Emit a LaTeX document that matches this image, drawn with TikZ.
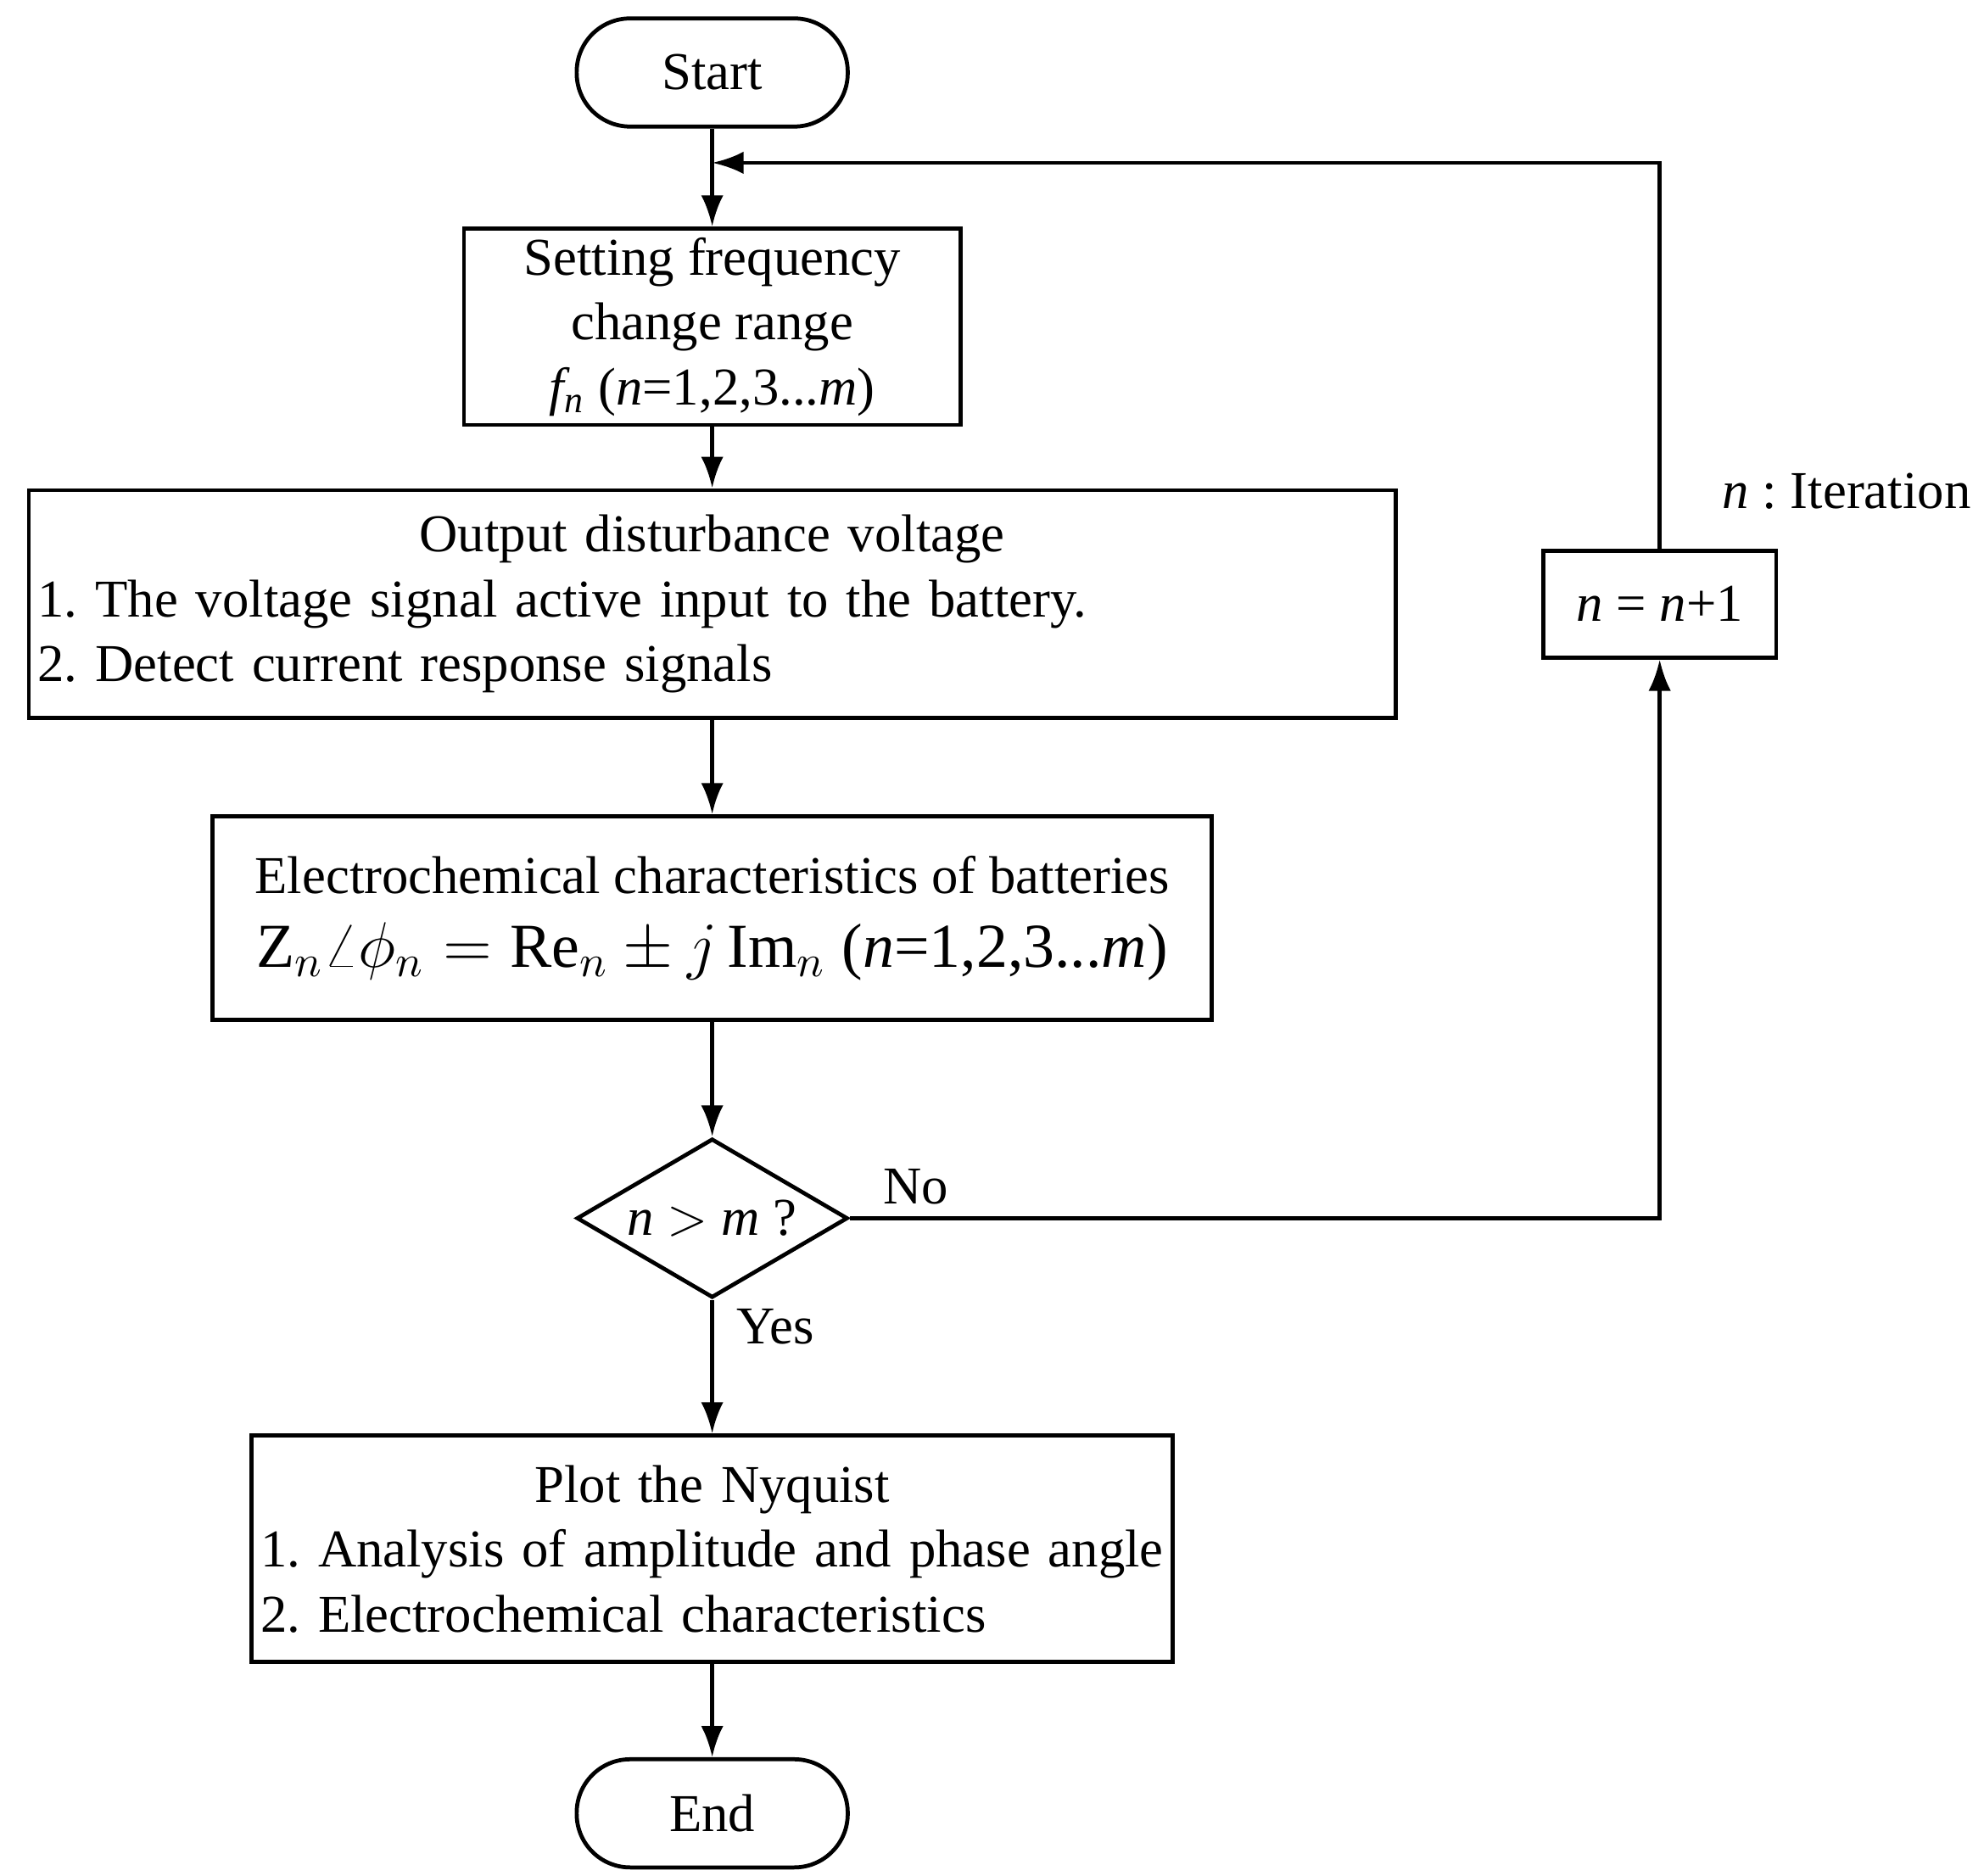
\documentclass[tikz,border=0pt]{standalone}
\usepackage{fontspec}
\setmainfont{Liberation Serif}
\usetikzlibrary{shapes.geometric,arrows.meta}
\frenchspacing
\begin{document}
\begin{tikzpicture}[x=0.01cm,y=-0.01cm,
  every node/.style={font=\fontsize{11.9}{14.5}\selectfont},
  box/.style={draw,line width=0.9pt,inner sep=2pt,align=center},
  term/.style={draw,line width=0.9pt,rounded corners=0.42cm,minimum width=2.13cm,minimum height=0.85cm},
  dec/.style={draw,line width=0.9pt,diamond,aspect=1.7,minimum width=2.13cm,minimum height=1.25cm,inner sep=0pt},
  arr/.style={line width=0.9pt,-{Latex[length=7pt,width=5pt]}},
  ln/.style={line width=0.9pt}]
\useasboundingbox (0,0) rectangle (1560,1475);
\node[term] (start) at (560,57) {Start};
\node[box,minimum width=3.9cm,minimum height=1.53cm] (set) at (560,257) {Setting frequency\\change range\\\textit{f\textsubscript{n}} (\textit{n}=1,2,3...\textit{m})};
\node[box,minimum width=10.73cm,minimum height=1.79cm,text width=10.6cm,align=left] (out) at (560,475) {{\centering Output disturbance voltage\par}1. The voltage signal active input to the battery.\\2. Detect current response signals};
\node[box,minimum width=7.85cm,minimum height=1.6cm] (ele) at (560,722) {Electrochemical characteristics of batteries\\[2pt]{\fontsize{14}{15}\selectfont $\mathrm{Z}_n\angle\phi_n=\mathrm{Re}_n\pm j\,\mathrm{Im}_n$ (\textit{n}=1,2,3...\textit{m})}};
\node[dec] (dec) at (560,958) {\textit{n} $>$ \textit{m} ?};
\node[box,minimum width=7.2cm,minimum height=1.78cm,text width=7.1cm,align=left] (plot) at (560,1218) {{\centering Plot the Nyquist\par}1. Analysis of amplitude and phase angle\\2. Electrochemical characteristics};
\node[term] (end) at (560,1426) {End};
\node[box,minimum width=1.83cm,minimum height=0.84cm] (inc) at (1305,475) {\textit{n} = \textit{n}+1};
\coordinate (j) at (560,128);
\coordinate (c1) at (1305,958);
\coordinate (c2) at (1305,128);
\draw[arr] (start) -- (set);
\draw[arr] (set) -- (out);
\draw[arr] (out) -- (ele);
\draw[arr] (ele) -- (dec);
\draw[arr] (dec) -- (plot);
\draw[arr] (plot) -- (end);
\draw[arr] (dec.east) -- (c1) -- (inc.south);
\draw[arr] (inc.north) -- (c2) -- (j);
\node at (720,933) {No};
\node at (610,1043) {Yes};
\node at (1452,386) {\textit{n} : Iteration};
\end{tikzpicture}
\end{document}
